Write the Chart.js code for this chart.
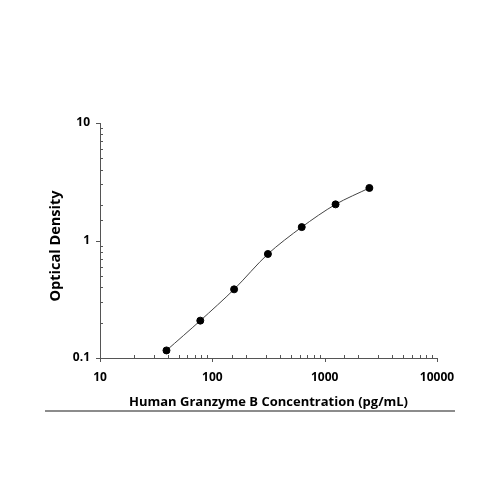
<!DOCTYPE html>
<html>
<head>
<meta charset="utf-8">
<script src="https://cdn.jsdelivr.net/npm/chart.js@4/dist/chart.umd.min.js"></script>
<style>
  html, body { margin: 0; padding: 0; background: #fff; }
  #wrap { width: 500px; height: 500px; }
</style>
</head>
<body>
<div id="wrap"><canvas id="stdCurve" width="500" height="500"></canvas></div>
<script>
// standard curve values (pg/mL vs OD)
const concentrations = [39.06, 78.13, 156.25, 312.5, 625, 1250, 2500];
const odValues = [0.116, 0.208, 0.384, 0.768, 1.30, 2.03, 2.80];
const xTickLabels = [10, 100, 1000, 10000];
const yTickLabels = [0.1, 1, 10];

const axisColor = '#555';
const fontFam = "'Open Sans', 'DejaVu Sans', sans-serif";

// draws major ticks outward, minor ticks inward, the y title and the rule under the chart
const tickMarks = {
    id: 'tickMarks',
    afterDraw(chart) {
        const ctx = chart.ctx;
        const xs = chart.scales.x, ys = chart.scales.y;
        const area = chart.chartArea;
        ctx.save();
        ctx.strokeStyle = axisColor;
        ctx.lineWidth = 1;
        xs.ticks.forEach(t => {
            const px = Math.round(xs.getPixelForValue(t.value)) + 0.5;
            const major = xTickLabels.includes(t.value);
            ctx.beginPath();
            if (major) { ctx.moveTo(px, area.bottom); ctx.lineTo(px, area.bottom + 4); }
            else { ctx.moveTo(px, area.bottom); ctx.lineTo(px, area.bottom - 3); }
            ctx.stroke();
        });
        ys.ticks.forEach(t => {
            const py = Math.round(ys.getPixelForValue(t.value)) + 0.5;
            const major = yTickLabels.some(v => Math.abs(v - t.value) < 1e-9);
            ctx.beginPath();
            if (major) { ctx.moveTo(area.left, py); ctx.lineTo(area.left - 4, py); }
            else { ctx.moveTo(area.left, py); ctx.lineTo(area.left + 3, py); }
            ctx.stroke();
        });
        // y axis title
        ctx.fillStyle = '#000';
        ctx.font = 'bold 14.5px ' + fontFam;
        ctx.textAlign = 'center';
        ctx.textBaseline = 'middle';
        ctx.translate(56, 246);
        ctx.rotate(-Math.PI / 2);
        ctx.fillText('Optical Density', 0, 0);
        ctx.setTransform(1, 0, 0, 1, 0, 0);
        // separator line under the axis title
        ctx.strokeStyle = '#666';
        ctx.lineWidth = 1.5;
        ctx.beginPath();
        ctx.moveTo(45, 411);
        ctx.lineTo(455, 411);
        ctx.stroke();
        ctx.restore();
    }
};

new Chart(document.getElementById('stdCurve'), {
    type: 'line',
    data: {
        datasets: [{
            data: concentrations.map((c, i) => ({ x: c, y: odValues[i] })),
            borderColor: '#444',
            borderWidth: 1,
            backgroundColor: '#000',
            pointBackgroundColor: '#000',
            pointBorderColor: '#000',
            pointRadius: 3.5,
            tension: 0.3,
            fill: false
        }]
    },
    options: {
        responsive: false,
        animation: false,
        layout: { padding: { top: 123, right: 63, left: 0, bottom: 0 } },
        plugins: {
            legend: { display: false },
            tooltip: { enabled: false }
        },
        scales: {
            x: {
                type: 'logarithmic',
                min: 10,
                max: 10000,
                afterFit: s => { s.height = 142; },
                grid: { display: false },
                border: { display: true, color: axisColor, width: 1 },
                ticks: {
                    autoSkip: false,
                    maxRotation: 0,
                    padding: 4,
                    color: '#000',
                    font: { family: fontFam, size: 12, weight: 'bold' },
                    callback: v => xTickLabels.includes(v) ? String(v) : ''
                },
                title: {
                    display: true,
                    text: 'Human Granzyme B Concentration (pg/mL)',
                    color: '#000',
                    font: { family: fontFam, size: 13, weight: 'bold' },
                    padding: { top: 0, bottom: 90 }
                }
            },
            y: {
                type: 'logarithmic',
                min: 0.1,
                max: 10,
                afterFit: s => { s.width = 100; },
                grid: { display: false },
                border: { display: true, color: axisColor, width: 1 },
                ticks: {
                    autoSkip: false,
                    padding: 2,
                    color: '#000',
                    font: { family: fontFam, size: 12, weight: 'bold' },
                    callback: v => yTickLabels.some(t => Math.abs(t - v) < 1e-9) ? String(v) : ''
                }
            }
        }
    },
    plugins: [tickMarks]
});
</script>
</body>
</html>
